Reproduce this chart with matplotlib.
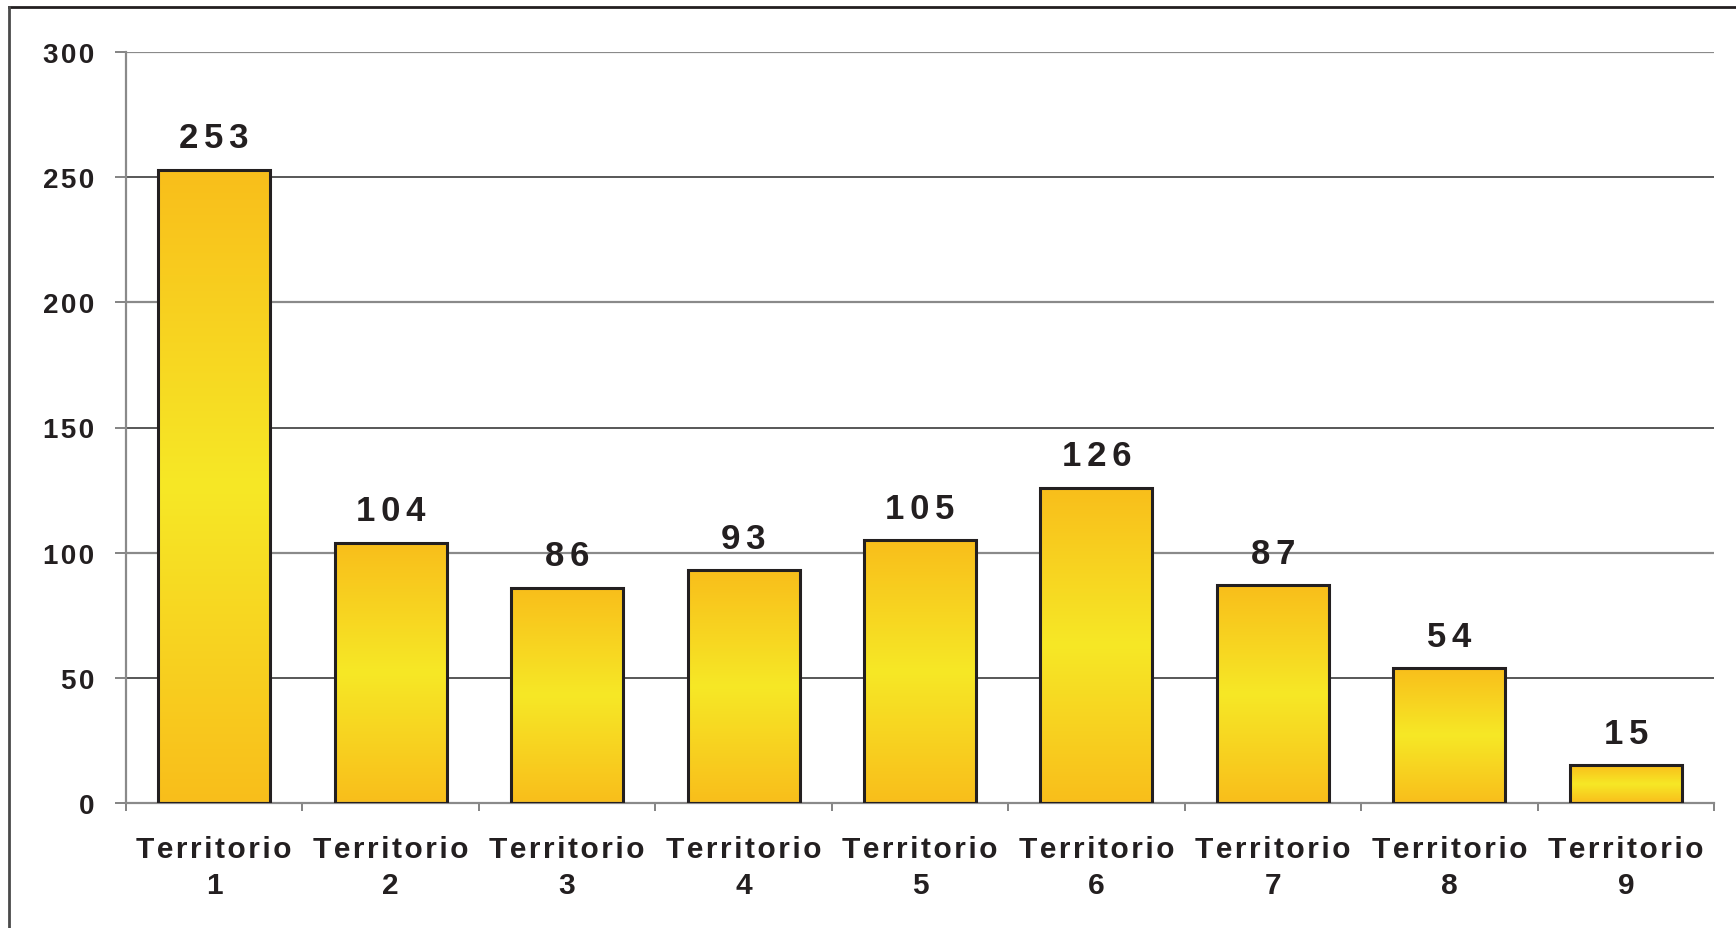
import matplotlib
matplotlib.use("Agg")
import matplotlib.pyplot as plt
import numpy as np
from matplotlib.colors import LinearSegmentedColormap
from matplotlib.lines import Line2D

categories = ["Territorio\n1", "Territorio\n2", "Territorio\n3", "Territorio\n4",
              "Territorio\n5", "Territorio\n6", "Territorio\n7", "Territorio\n8",
              "Territorio\n9"]
values = [253, 104, 86, 93, 105, 126, 87, 54, 15]
yticks = [0, 50, 100, 150, 200, 250, 300]

HS = "\u200a"  # hair space for letter spacing
SS = "\u2006"  # six-per-em space


def spaced(s):
    return "\n".join(HS.join(list(line)) for line in s.split("\n"))


plt.rcParams['font.family'] = ['Liberation Sans', 'DejaVu Sans']
plt.rcParams['font.weight'] = 'bold'

W, H = 1736, 929
fig = plt.figure(figsize=(W / 100, H / 100), dpi=100)
ax = fig.add_axes([126 / W, 125 / H, (1714 - 126) / W, (804 - 53) / H])

cmap = LinearSegmentedColormap.from_list(
    "bar", [(0.0, "#F9BE1B"), (0.5, "#F6E826"), (1.0, "#F9BE1B")])
grad = np.linspace(0, 1, 256).reshape(-1, 1)

width = 0.635
x = np.arange(len(values))
bars = ax.bar(x, values, width=width, facecolor="none", edgecolor="#231F20",
              linewidth=2.2, zorder=3)
for b in bars:
    x0, y0 = b.get_x(), b.get_y()
    w, h = b.get_width(), b.get_height()
    im = ax.imshow(grad, cmap=cmap, aspect="auto", extent=[x0, x0 + w, y0, y0 + h],
                   origin="lower", zorder=2, interpolation="bilinear")
    im.set_clip_path(b)

for xi, v in zip(x, values):
    ax.annotate(SS.join(str(v)), (xi, v), xytext=(0, 16), textcoords="offset points",
                ha="center", va="baseline", fontsize=25, fontweight="bold",
                color="#231F20")

# gridlines
for t in yticks[1:]:
    col = "#8A8A8A" if t % 100 == 0 else "#2A2A2A"
    lw = 1.6 if t % 100 == 0 else 1.1
    ax.axhline(t, color=col, linewidth=lw, zorder=1)

ax.set_xlim(-0.5, len(values) - 0.5)
ax.set_ylim(0, 300)
ax.set_yticks(yticks)
ax.set_yticklabels([HS.join(str(t)) for t in yticks], fontsize=20, fontweight="bold",
                   color="#231F20")
ax.tick_params(axis="y", length=8, width=1.2, color="#6E6E6E", pad=15)

ax.set_xticks(x)
ax.set_xticklabels([spaced(c) for c in categories], fontsize=21.5, fontweight="bold",
                   color="#231F20", linespacing=1.38)
ax.tick_params(axis="x", which="major", length=0, pad=23)
ax.set_xticks(np.arange(-0.5, len(values), 1.0), minor=True)
ax.tick_params(axis="x", which="minor", length=6, width=1.2, color="#6E6E6E")

for s in ["top", "right"]:
    ax.spines[s].set_visible(False)
for s in ["left", "bottom"]:
    ax.spines[s].set_color("#8A8A8A")
    ax.spines[s].set_linewidth(1.6)
ax.set_facecolor("white")

# outer frame (top and left edges visible)
fig.add_artist(Line2D([8.5 / W, 1], [1 - 7.5 / H, 1 - 7.5 / H], transform=fig.transFigure,
                      color="#231F20", linewidth=2))
fig.add_artist(Line2D([8.5 / W, 8.5 / W], [0, 1 - 7.5 / H], transform=fig.transFigure,
                      color="#4A4A4A", linewidth=2))

fig.savefig("out.png", dpi=100)
